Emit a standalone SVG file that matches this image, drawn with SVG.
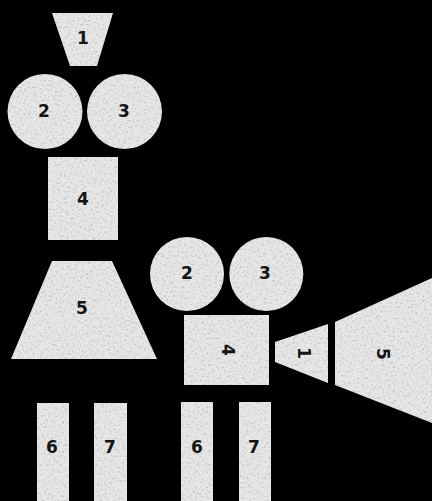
<svg xmlns="http://www.w3.org/2000/svg" width="432" height="501" viewBox="0 0 432 501">
  <style>
    .shape { fill: #e6e6e6; filter: url(#grain); }
    .lbl { font-family: "DejaVu Sans", "Liberation Sans", sans-serif; font-weight: bold; font-size: 17px; fill: #151515; text-anchor: middle; dominant-baseline: central; }
  </style>
  <defs>
    <filter id="grain" x="0%" y="0%" width="100%" height="100%" color-interpolation-filters="sRGB">
      <feTurbulence type="fractalNoise" baseFrequency="0.45" numOctaves="3" seed="7" result="noise"/>
      <feColorMatrix in="noise" type="matrix" values="0 0 0 0 0.55  0 0 0 0 0.55  0 0 0 0 0.55  -1.3 0 0 0 0.62" result="spots"/>
      <feComposite in="spots" in2="SourceGraphic" operator="in" result="spotsIn"/>
      <feMerge>
        <feMergeNode in="SourceGraphic"/>
        <feMergeNode in="spotsIn"/>
      </feMerge>
    </filter>
  </defs>
  <rect x="0" y="0" width="432" height="501" fill="#000000"/>

  <!-- Figure: person -->
  <g id="p1">
    <polygon class="shape" points="52,13 113,13 97,66 70,66"/>
    <text class="lbl" x="83" y="38">1</text>
  </g>
  <g id="p2">
    <circle class="shape" cx="45" cy="111.5" r="37.5"/>
    <text class="lbl" x="44" y="111">2</text>
  </g>
  <g id="p3">
    <circle class="shape" cx="124.5" cy="111.5" r="37.5"/>
    <text class="lbl" x="124" y="111">3</text>
  </g>
  <g id="p4">
    <rect class="shape" x="48" y="157" width="70" height="83"/>
    <text class="lbl" x="83" y="199">4</text>
  </g>
  <g id="p5">
    <polygon class="shape" points="52,261 112,261 157,359 11,359"/>
    <text class="lbl" x="82" y="308">5</text>
  </g>
  <g id="p6">
    <rect class="shape" x="37" y="403" width="32" height="98"/>
    <text class="lbl" x="52" y="447">6</text>
  </g>
  <g id="p7">
    <rect class="shape" x="94" y="403" width="33" height="98"/>
    <text class="lbl" x="110" y="447">7</text>
  </g>

  <!-- Figure: projector -->
  <g id="c2">
    <circle class="shape" cx="187" cy="274" r="37"/>
    <text class="lbl" x="187" y="273">2</text>
  </g>
  <g id="c3">
    <circle class="shape" cx="266.3" cy="274" r="37"/>
    <text class="lbl" x="265" y="273">3</text>
  </g>
  <g id="c4">
    <rect class="shape" x="184" y="315" width="85" height="70"/>
    <text class="lbl" transform="rotate(90 228 350)" x="228" y="350">4</text>
  </g>
  <g id="c1">
    <polygon class="shape" points="275,342 328,324 328,383 275,362"/>
    <text class="lbl" transform="rotate(90 304 353)" x="304" y="353">1</text>
  </g>
  <g id="c5">
    <polygon class="shape" points="335,322 432,278 432,423 335,385"/>
    <text class="lbl" transform="rotate(90 383 354)" x="383" y="354">5</text>
  </g>
  <g id="c6">
    <rect class="shape" x="181" y="402" width="32" height="99"/>
    <text class="lbl" x="197" y="447">6</text>
  </g>
  <g id="c7">
    <rect class="shape" x="239" y="402" width="32" height="99"/>
    <text class="lbl" x="254" y="447">7</text>
  </g>
</svg>
